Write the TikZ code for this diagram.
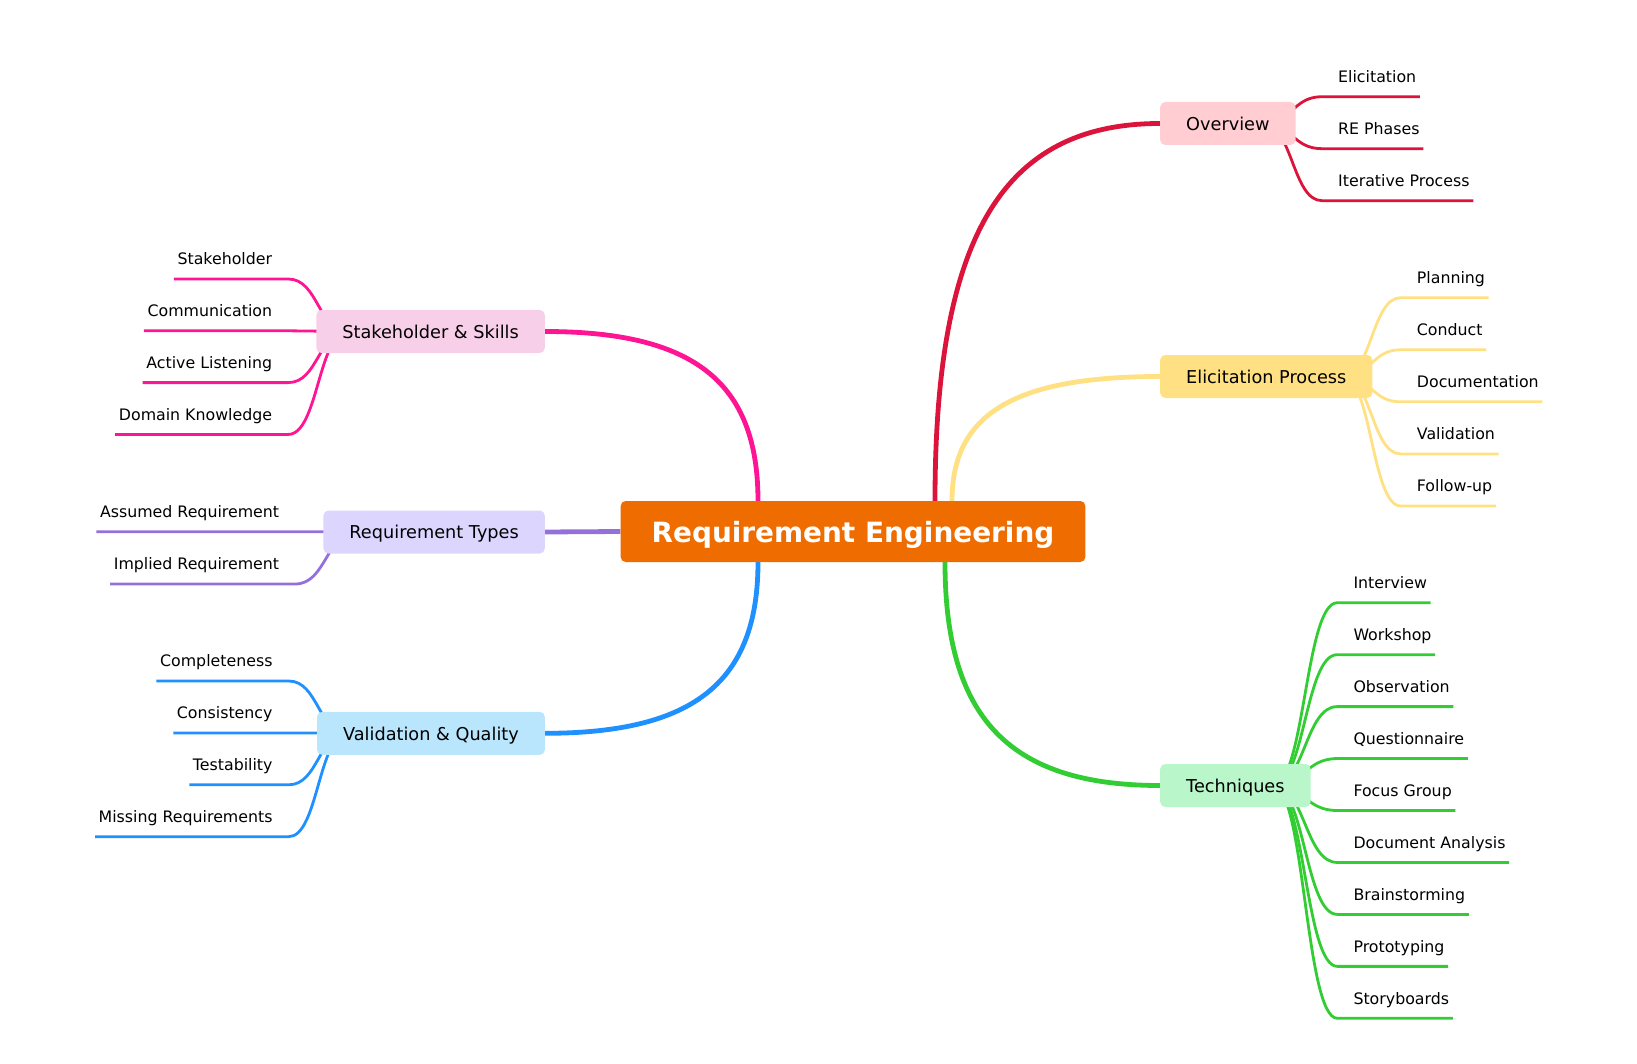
\documentclass[tikz,border=0pt]{standalone}
\usepackage{fontspec}
\setmainfont{DejaVu Sans}
\usepackage{xcolor}
\definecolor{rootorange}{RGB}{239,108,0}
\definecolor{ovred}{RGB}{220,20,60}
\definecolor{ovfill}{RGB}{255,205,210}
\definecolor{epyellow}{RGB}{255,224,130}
\definecolor{tqgreen}{RGB}{50,205,50}
\definecolor{tqfill}{RGB}{185,246,202}
\definecolor{shpink}{RGB}{255,20,147}
\definecolor{shfill}{RGB}{248,207,232}
\definecolor{rtpurple}{RGB}{147,112,219}
\definecolor{rtfill}{RGB}{220,214,255}
\definecolor{vqblue}{RGB}{30,144,255}
\definecolor{vqfill}{RGB}{185,230,252}
\usetikzlibrary{calc,backgrounds}
\tikzset{
  rootbox/.style={fill=rootorange,rounded corners=5pt,text=white,inner xsep=31pt,minimum height=61pt,text depth=0pt,font=\fontsize{27.9}{33}\selectfont\bfseries},
  topic/.style={rounded corners=5pt,inner xsep=26pt,minimum height=43pt,text depth=0pt,font=\fontsize{17.7}{21}\selectfont},
  leafR/.style={anchor=base west,inner sep=0pt,font=\fontsize{15.8}{19}\selectfont},
  leafL/.style={anchor=base east,inner sep=0pt,font=\fontsize{15.8}{19}\selectfont},
  trunk/.style={line width=4.8pt},
  twig/.style={line width=2.8pt},
  corner/.style={to path={.. controls ($(\tikztostart)!0.7!(\tikztostart|-\tikztotarget)$) and ($(\tikztotarget)!0.7!(\tikztostart|-\tikztotarget)$) .. (\tikztotarget)}},
  scurve/.style={to path={.. controls ($(\tikztostart)!0.5!(\tikztostart-|\tikztotarget)$) and ($(\tikztotarget)!0.5!(\tikztotarget-|\tikztostart)$) .. (\tikztotarget)}},
}

\begin{document}
\begin{tikzpicture}[x=1pt,y=-1pt]
  \useasboundingbox (0,0) rectangle (1637,1064);
  \node[rootbox] (re) at (853,531.5) {Requirement Engineering};
  \node[topic,fill=ovfill,anchor=west] (ov) at (1160,123.5) {Overview};
  \node[topic,fill=epyellow,anchor=west] (ep) at (1160,376.5) {Elicitation Process};
  \node[topic,fill=tqfill,anchor=west] (tq) at (1160,785.5) {Techniques};
  \node[topic,fill=shfill,anchor=east] (sh) at (545,331.5) {Stakeholder \& Skills};
  \node[topic,fill=rtfill,anchor=east] (rt) at (545,532) {Requirement Types};
  \node[topic,fill=vqfill,anchor=east] (vq) at (545,733.3) {Validation \& Quality};

  \coordinate (tOv) at ($(re.north)+(82,0)$);
  \coordinate (tEp) at ($(re.north)+(99,0)$);
  \coordinate (tTq) at ($(re.south)+(92,0)$);
  \coordinate (tSh) at ($(re.north)+(-95,0)$);
  \coordinate (tVq) at ($(re.south)+(-95,0)$);
  \coordinate (ovO) at ($(ov.east)+(-33,0)$);
  \coordinate (epO) at ($(ep.east)+(-30,0)$);
  \coordinate (tqO) at ($(tq.east)+(-38,0)$);
  \coordinate (shO) at ($(sh.west)+(32,0)$);
  \coordinate (rtO) at ($(rt.west)+(34,0)$);
  \coordinate (vqO) at ($(vq.west)+(31,0)$);

  \begin{scope}[on background layer]
    \draw[trunk,ovred] (tOv) to[corner] (ov.west);
    \draw[trunk,epyellow] (tEp) to[corner] (ep.west);
    \draw[trunk,tqgreen] (tTq) to[corner] (tq.west);
    \draw[trunk,shpink] (tSh) to[corner] (sh.east);
    \draw[trunk,vqblue] (tVq) to[corner] (vq.east);
    \draw[trunk,rtpurple] (re.west) -- (rt.east);
  \end{scope}

  \foreach \txt [count=\i] in {Elicitation,RE Phases,Iterative Process}{
    \node[leafR] (ov\i) at (1338,{82.4+52*(\i-1)}) {\txt};
    \coordinate (ova\i) at ($(ov\i.base west)+(-16,14.3)$);
    \coordinate (ovb\i) at ($(ov\i.base east)+(3.5,14.3)$);
    \begin{pgfonlayer}{background}
      \draw[twig,ovred] (ovO) to[scurve] (ova\i) -- (ovb\i);
    \end{pgfonlayer}
  }
  \foreach \txt [count=\i] in {Planning,Conduct,Documentation,Validation,Follow-up}{
    \node[leafR] (ep\i) at (1416.7,{283.4+52.07*(\i-1)}) {\txt};
    \coordinate (epa\i) at ($(ep\i.base west)+(-16,14.3)$);
    \coordinate (epb\i) at ($(ep\i.base east)+(3.5,14.3)$);
    \begin{pgfonlayer}{background}
      \draw[twig,epyellow] (epO) to[scurve] (epa\i) -- (epb\i);
    \end{pgfonlayer}
  }
  \foreach \txt [count=\i] in {Interview,Workshop,Observation,Questionnaire,Focus Group,Document Analysis,Brainstorming,Prototyping,Storyboards}{
    \node[leafR] (tq\i) at (1353.3,{588.4+51.95*(\i-1)}) {\txt};
    \coordinate (tqa\i) at ($(tq\i.base west)+(-16,14.3)$);
    \coordinate (tqb\i) at ($(tq\i.base east)+(3.5,14.3)$);
    \begin{pgfonlayer}{background}
      \draw[twig,tqgreen] (tqO) to[scurve] (tqa\i) -- (tqb\i);
    \end{pgfonlayer}
  }
  \foreach \txt [count=\i] in {Stakeholder,Communication,Active Listening,Domain Knowledge}{
    \node[leafL] (sh\i) at (272.3,{264.7+51.8*(\i-1)}) {\txt};
    \coordinate (sha\i) at ($(sh\i.base east)+(16,14.3)$);
    \coordinate (shb\i) at ($(sh\i.base west)+(-3.5,14.3)$);
    \begin{pgfonlayer}{background}
      \draw[twig,shpink] (shO) to[scurve] (sha\i) -- (shb\i);
    \end{pgfonlayer}
  }
  \foreach \txt [count=\i] in {Assumed Requirement,Implied Requirement}{
    \node[leafL] (rt\i) at (279.3,{517.4+52.3*(\i-1)}) {\txt};
    \coordinate (rta\i) at ($(rt\i.base east)+(16,14.3)$);
    \coordinate (rtb\i) at ($(rt\i.base west)+(-3.5,14.3)$);
    \begin{pgfonlayer}{background}
      \draw[twig,rtpurple] (rtO) to[scurve] (rta\i) -- (rtb\i);
    \end{pgfonlayer}
  }
  \foreach \txt [count=\i] in {Completeness,Consistency,Testability,Missing Requirements}{
    \node[leafL] (vq\i) at (272.7,{666.7+51.9*(\i-1)}) {\txt};
    \coordinate (vqa\i) at ($(vq\i.base east)+(16,14.3)$);
    \coordinate (vqb\i) at ($(vq\i.base west)+(-3.5,14.3)$);
    \begin{pgfonlayer}{background}
      \draw[twig,vqblue] (vqO) to[scurve] (vqa\i) -- (vqb\i);
    \end{pgfonlayer}
  }
\end{tikzpicture}
\end{document}
